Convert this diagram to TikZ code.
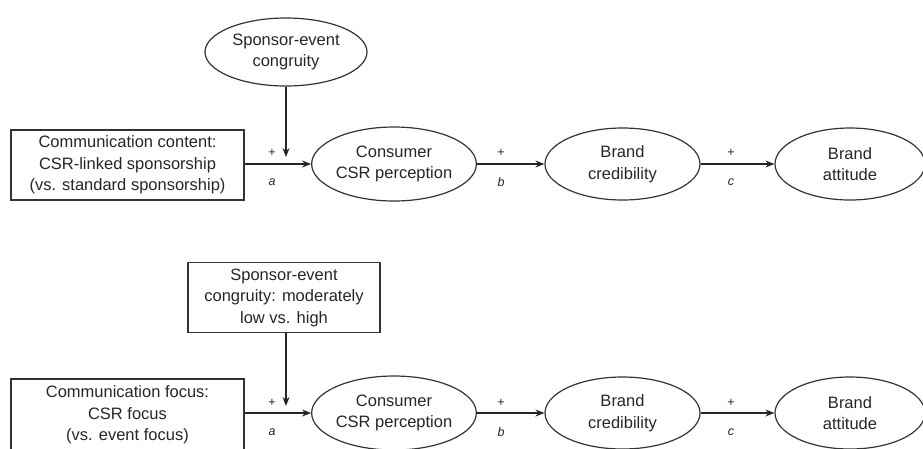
\documentclass[tikz,border=0pt]{standalone}
\usepackage{fontspec}
\setmainfont{Liberation Sans}
\usetikzlibrary{shapes.geometric,arrows.meta}
\begin{document}
\begin{tikzpicture}[x=1pt,y=-1pt,
  every node/.style={font=\fontsize{16.5}{21.5}\selectfont, text=black!85, align=center},
  oval/.style={draw=black!80, line width=1.2pt, ellipse, inner sep=0pt, minimum width=157pt, minimum height=74pt},
  rbox/.style={draw=black!80, line width=1.2pt, rectangle, inner sep=0pt},
  link/.style={draw=black!85, line width=1.2pt, -{Stealth[length=9pt,width=7pt]}},
  sign/.style={font=\fontsize{12.5}{14}\selectfont},
  path/.style={font=\fontsize{12.5}{14}\selectfont\itshape}
]
\useasboundingbox (0,0) rectangle (923,448);
\begin{scope}
\clip (0,0) rectangle (923,448);

% ---------- Study 1 ----------
\node[oval, minimum width=162pt, minimum height=68pt] (mod1) at (286,52) {Sponsor-event\\congruity};
\node[rbox, minimum width=233pt, minimum height=70pt] (cont1) at (127.5,165) {Communication content:\\CSR-linked sponsorship\\(vs. standard sponsorship)};
\node[oval] (csr1) at (394,164) {Consumer\\CSR perception};
\node[oval, minimum width=155pt, minimum height=72pt] (cred1) at (622.5,164) {Brand\\credibility};
\node[oval, minimum width=150pt, minimum height=72pt] (att1) at (850,164) {Brand\\attitude};
\coordinate (tip1) at (286,157);

\draw[link] (cont1.east |- csr1.west) -- (csr1.west);
\draw[link] (mod1.south -| tip1) -- (tip1);
\draw[link] (csr1.east) -- (cred1.west);
\draw[link] (cred1.east) -- (att1.west);

\node[sign] (p1a) at (272,153) {+};
\node[path] (l1a) at (272,182) {a};
\node[sign] (p1b) at (501,153) {+};
\node[path] (l1b) at (501,182) {b};
\node[sign] (p1c) at (731,153) {+};
\node[path] (l1c) at (731,182) {c};

% ---------- Study 2 ----------
\node[rbox, minimum width=192pt, minimum height=70pt] (mod2) at (284,297.5) {Sponsor-event\\congruity: moderately\\low vs. high};
\node[rbox, minimum width=233pt, minimum height=72pt] (cont2) at (127.5,415) {Communication focus:\\CSR focus\\(vs. event focus)};
\node[oval] (csr2) at (394,413) {Consumer\\CSR perception};
\node[oval, minimum width=155pt, minimum height=72pt] (cred2) at (622.5,413) {Brand\\credibility};
\node[oval, minimum width=150pt, minimum height=72pt] (att2) at (850,413) {Brand\\attitude};
\coordinate (tip2) at (286,406);

\draw[link] (cont2.east |- csr2.west) -- (csr2.west);
\draw[link] (mod2.south -| tip2) -- (tip2);
\draw[link] (csr2.east) -- (cred2.west);
\draw[link] (cred2.east) -- (att2.west);

\node[sign] (p2a) at (272,403) {+};
\node[path] (l2a) at (272,432) {a};
\node[sign] (p2b) at (501,403) {+};
\node[path] (l2b) at (501,432) {b};
\node[sign] (p2c) at (731,403) {+};
\node[path] (l2c) at (731,432) {c};
\end{scope}
\end{tikzpicture}
\end{document}
